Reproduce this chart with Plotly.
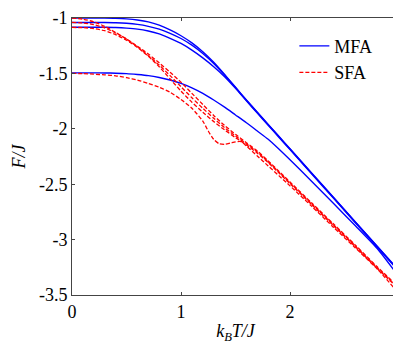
import plotly.graph_objects as go

# Temperature grid (k_B T / J)
T = [0, 0.1, 0.2, 0.3, 0.4, 0.5, 0.6, 0.7, 0.8, 0.9, 1.0, 1.1, 1.2, 1.3, 1.4,
     1.5, 1.6, 1.7, 1.8, 1.9, 2.0, 2.2, 2.4, 2.6, 2.8, 2.95]

# MFA curves (F/J)
mfa_1 = [-1.0, -1.0, -1.0, -1.001, -1.003, -1.008, -1.018, -1.035, -1.065, -1.108, -1.16, -1.225, -1.305,
         -1.40, -1.51, -1.625, -1.74, -1.85, -1.96, -2.07, -2.18, -2.40, -2.62, -2.84, -3.06, -3.225]
mfa_2 = [-1.04, -1.04, -1.04, -1.041, -1.043, -1.048, -1.058, -1.075, -1.10, -1.138, -1.185, -1.245, -1.32,
         -1.41, -1.515, -1.628, -1.743, -1.853, -1.963, -2.073, -2.183, -2.403, -2.623, -2.843, -3.063, -3.228]
mfa_3 = [-1.083, -1.083, -1.083, -1.084, -1.086, -1.091, -1.10, -1.117, -1.143, -1.183, -1.23, -1.29, -1.36,
         -1.44, -1.53, -1.635, -1.748, -1.858, -1.968, -2.078, -2.188, -2.408, -2.628, -2.848, -3.068, -3.233]
mfa_4 = [-1.495, -1.495, -1.495, -1.496, -1.498, -1.502, -1.51, -1.52, -1.537, -1.56, -1.59, -1.63, -1.68,
         -1.74, -1.805, -1.875, -1.945, -2.02, -2.095, -2.185, -2.28, -2.475, -2.675, -2.875, -3.08, -3.27]

# SFA curves (F/J)
sfa_1 = [-1.0, -1.01, -1.035, -1.075, -1.13, -1.19, -1.255, -1.325, -1.405, -1.49, -1.58, -1.68, -1.78,
         -1.88, -1.97, -2.05, -2.125, -2.2, -2.29, -2.385, -2.48, -2.67, -2.86, -3.05, -3.245, -3.385]
sfa_2 = [-1.04, -1.045, -1.06, -1.09, -1.135, -1.19, -1.26, -1.34, -1.425, -1.52, -1.62, -1.72, -1.815,
         -1.905, -1.99, -2.065, -2.135, -2.21, -2.298, -2.393, -2.488, -2.678, -2.868, -3.058, -3.253, -3.393]
sfa_3 = [-1.085, -1.087, -1.095, -1.115, -1.15, -1.2, -1.265, -1.345, -1.44, -1.55, -1.66, -1.76, -1.85,
         -1.935, -2.01, -2.08, -2.145, -2.22, -2.305, -2.40, -2.495, -2.685, -2.875, -3.065, -3.26, -3.40]
T_sfa_4 = [0, 0.1, 0.2, 0.3, 0.4, 0.5, 0.6, 0.7, 0.8, 0.9, 1.0, 1.1, 1.2, 1.25, 1.3, 1.35, 1.4, 1.45,
           1.5, 1.55, 1.6, 1.7, 1.8, 1.9, 2.0, 2.2, 2.4, 2.6, 2.8, 2.95]
sfa_4 = [-1.5, -1.502, -1.507, -1.513, -1.522, -1.538, -1.56, -1.59, -1.625, -1.67, -1.735, -1.815, -1.93,
         -2.02, -2.095, -2.135, -2.14, -2.13, -2.118, -2.115, -2.155, -2.245, -2.335, -2.425, -2.515,
         -2.70, -2.89, -3.075, -3.265, -3.43]

x_ticks = [0, 1, 2, 3]
y_ticks = [-3.5, -3, -2.5, -2, -1.5, -1]
y_tick_text = ["-3.5", "-3", "-2.5", "-2", "-1.5", "-1"]

BLUE = "#0000FF"
RED = "#FF0000"
FONT = "Liberation Serif, Times New Roman, serif"

fig = go.Figure()
for i, ys in enumerate([mfa_1, mfa_2, mfa_3, mfa_4]):
    fig.add_trace(go.Scatter(x=T, y=ys, mode="lines", name="MFA", legendgroup="MFA",
                             showlegend=(i == 0), line=dict(color=BLUE, width=1.4, shape="spline", smoothing=0.6)))
for i, (xs, ys) in enumerate([(T, sfa_1), (T, sfa_2), (T, sfa_3), (T_sfa_4, sfa_4)]):
    fig.add_trace(go.Scatter(x=xs, y=ys, mode="lines", name="SFA", legendgroup="SFA",
                             showlegend=(i == 0),
                             line=dict(color=RED, width=1.3, dash="4px,2px", shape="spline", smoothing=0.6)))

axis_common = dict(showline=True, linecolor="#444444", linewidth=1, mirror="allticks",
                   ticks="inside", ticklen=3, tickcolor="#444444", showgrid=False, zeroline=False,
                   tickfont=dict(family=FONT, size=18, color="black"), automargin=False,
                   ticklabeloverflow="allow")

# The page body adds an 8px offset, so the figure is sized to the visible window area.
fig.update_layout(
    template="none",
    width=393, height=336,
    margin=dict(l=64, r=2, t=10, b=49),
    paper_bgcolor="white", plot_bgcolor="white",
    font=dict(family=FONT, color="black"),
    xaxis=dict(range=[0, 3], tickvals=x_ticks, ticktext=[str(v) for v in x_ticks],
               title=dict(text="<i>k</i><sub><i>B</i></sub><i>T/J</i>",
                          font=dict(family=FONT, size=18, color="black"), standoff=6),
               **axis_common),
    yaxis=dict(range=[-3.5, -1], tickvals=y_ticks, ticktext=y_tick_text,
               title=dict(text="<i>F/J</i>", font=dict(family=FONT, size=18, color="black"), standoff=8),
               **axis_common),
    legend=dict(x=0.68, y=0.965, xanchor="left", yanchor="top", bgcolor="rgba(0,0,0,0)",
                font=dict(family=FONT, size=18, color="black"), tracegroupgap=0),
    showlegend=True,
)

fig.write_html("out.html")
